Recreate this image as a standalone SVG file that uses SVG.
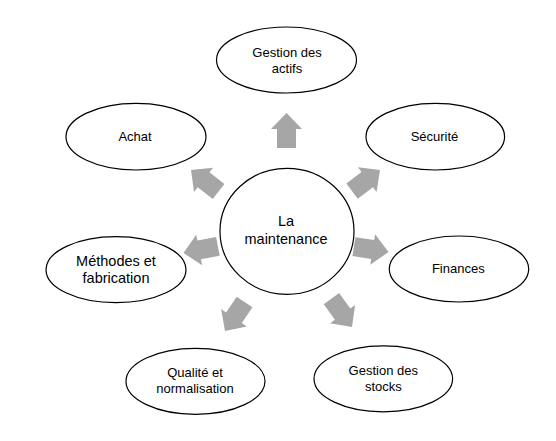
<svg xmlns="http://www.w3.org/2000/svg" width="556" height="441" viewBox="0 0 556 441">
  <style>
    .node { fill: #FFFFFF; stroke: #000000; stroke-width: 1.2; }
    .lbl { font-family: "Liberation Sans", Arial, sans-serif; font-size: 13px; fill: #000000; text-anchor: middle; }
    .big { font-size: 14.5px; }
    .arrow { fill: #A6A6A6; }
  </style>
  <defs>
    <polygon id="blockArrow" points="0,0 -16,-15.5 -16,-9.5 -35,-9.5 -35,9.5 -16,9.5 -16,15.5"/>
  </defs>
  <rect width="556" height="441" fill="#FFFFFF"/>

  <g id="connectors" class="arrow">
    <use href="#blockArrow" transform="translate(286.5,113) rotate(-90)"/>
    <use href="#blockArrow" transform="translate(191,170) rotate(-142)"/>
    <use href="#blockArrow" transform="translate(380,170) rotate(-37)"/>
    <use href="#blockArrow" transform="translate(183.5,253) rotate(169)"/>
    <use href="#blockArrow" transform="translate(388.5,252) rotate(9)"/>
    <use href="#blockArrow" transform="translate(225,331) rotate(124)"/>
    <use href="#blockArrow" transform="translate(352,327) rotate(54)"/>
  </g>

  <g id="center">
    <ellipse class="node" cx="287" cy="231.3" rx="67" ry="63"/>
    <text class="lbl big" x="286" y="226">La</text>
    <text class="lbl big" x="286" y="243.5">maintenance</text>
  </g>

  <g id="gestion-actifs">
    <ellipse class="node" cx="286.5" cy="60" rx="70" ry="33"/>
    <text class="lbl" x="287" y="57">Gestion des</text>
    <text class="lbl" x="287" y="73">actifs</text>
  </g>

  <g id="achat">
    <ellipse class="node" cx="136" cy="136.7" rx="70" ry="33.3"/>
    <text class="lbl" x="135" y="141">Achat</text>
  </g>

  <g id="securite">
    <ellipse class="node" cx="435.3" cy="136.7" rx="69.3" ry="33.3"/>
    <text class="lbl" x="434.5" y="141">Sécurité</text>
  </g>

  <g id="methodes">
    <ellipse class="node" cx="116" cy="269.7" rx="70" ry="33"/>
    <text class="lbl big" x="116" y="265.7">Méthodes et</text>
    <text class="lbl big" x="116" y="282.7">fabrication</text>
  </g>

  <g id="finances">
    <ellipse class="node" cx="459" cy="269" rx="69.7" ry="33"/>
    <text class="lbl" x="458.3" y="273.3">Finances</text>
  </g>

  <g id="qualite">
    <ellipse class="node" cx="195.5" cy="381.3" rx="69.5" ry="33"/>
    <text class="lbl" x="195" y="377.3">Qualité et</text>
    <text class="lbl" x="195" y="392.7">normalisation</text>
  </g>

  <g id="gestion-stocks">
    <ellipse class="node" cx="383.3" cy="378.8" rx="69.3" ry="33"/>
    <text class="lbl" x="383.3" y="375">Gestion des</text>
    <text class="lbl" x="383.3" y="391">stocks</text>
  </g>
</svg>
